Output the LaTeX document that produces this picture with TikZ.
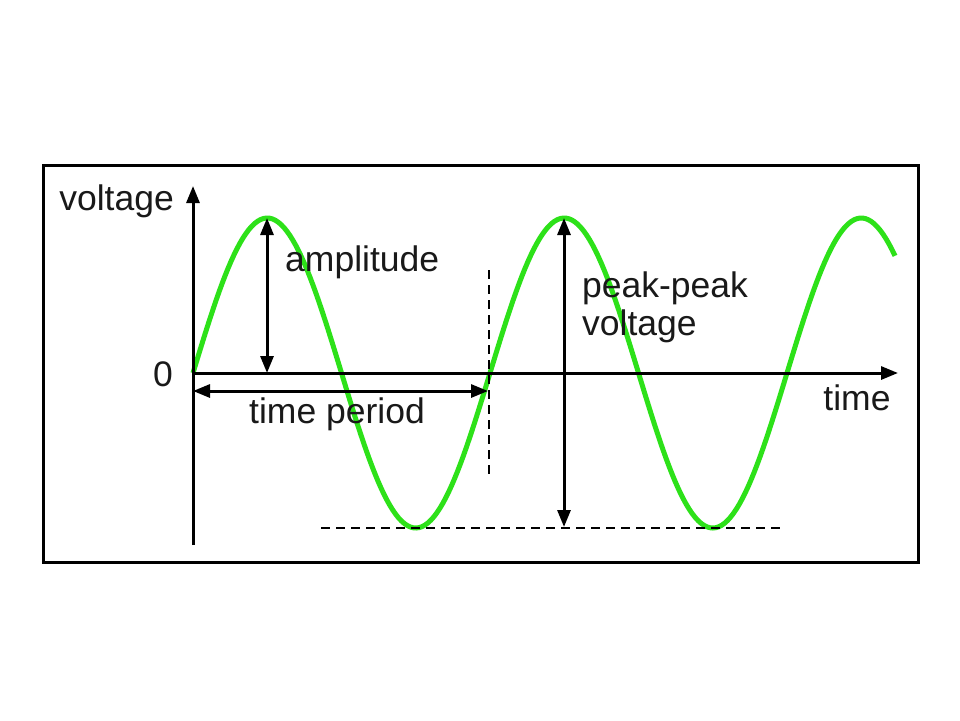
\documentclass[tikz,border=0pt]{standalone}
\usepackage{fontspec}
\setmainfont{Liberation Sans}
\usetikzlibrary{arrows.meta}
\definecolor{wave}{RGB}{45,225,25}
\tikzset{
  axis/.style={line width=3pt, -{Triangle[length=17pt,width=13pt]}},
  dim/.style={line width=3pt, {Triangle[length=17pt,width=13pt]}-{Triangle[length=17pt,width=13pt]}},
  guide/.style={line width=2.5pt, dash pattern=on 9pt off 6pt},
  lbl/.style={font=\fontsize{35.5}{38}\selectfont, text=black!90, inner sep=0pt},
}
\begin{document}
\begin{tikzpicture}[x=1pt,y=-1pt]
\useasboundingbox (0,0) rectangle (960,720);
\fill[white] (0,0) rectangle (960,720);
\draw[line width=3pt] (43,165) rectangle (918,562);
% coordinates
\coordinate (O) at (193,373);
\coordinate (ytop) at (193,186);
\coordinate (ybot) at (193,545);
\coordinate (xend) at (898,373);
\coordinate (pk1) at (267,218);
\coordinate (pk1b) at (267,373);
\coordinate (tpa) at (193,391);
\coordinate (tpb) at (488,391);
\coordinate (ppa) at (564,218);
\coordinate (ppb) at (564,527);
\coordinate (dva) at (489,270);
\coordinate (dvb) at (489,477);
\coordinate (dha) at (321,528);
\coordinate (dhb) at (785,528);
% wave
\draw[wave, line width=5pt] plot[domain=193:895, samples=240] (\x, {373 - 155*sin(((\x-193)/297)*360)});
% axes
\draw[axis] (ybot) -- (ytop);
\draw[axis] (O) -- (xend);
% guides
\draw[guide] (dva) -- (dvb);
\draw[guide] (dha) -- (dhb);
% dimension arrows
\draw[dim] (pk1) -- (pk1b);
\draw[dim] (tpa) -- (tpb);
\draw[dim] (ppa) -- (ppb);
% labels
\node[lbl, anchor=east] (lv) at (174,201) {voltage};
\node[lbl] (l0) at (163,374) {0};
\node[lbl, anchor=west] (la) at (285,262) {amplitude};
\node[lbl] (ltp) at (337,414) {time period};
\node[lbl, anchor=west, align=left] (lpp) at (582,307) {peak-peak\\voltage};
\node[lbl] (lt) at (857,398) {time};
\end{tikzpicture}
\end{document}
